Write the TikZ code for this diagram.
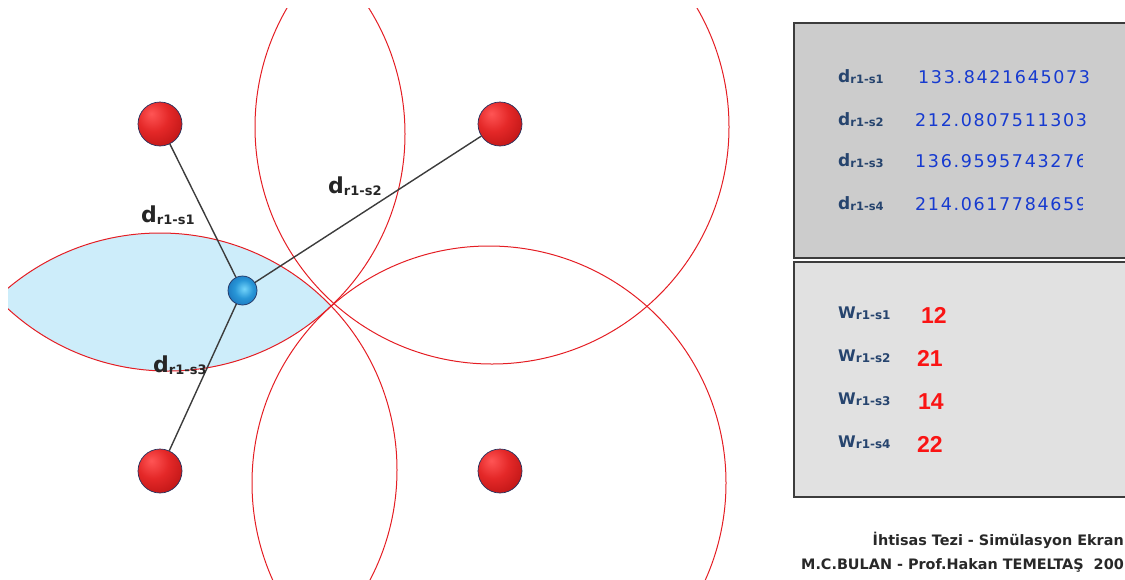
\documentclass[tikz,border=0pt]{standalone}
\usepackage{fontspec}
\setmainfont{DejaVu Sans}
\newfontfamily\numfont[LetterSpace=9.5]{DejaVu Sans}
\newfontfamily\wfont{Liberation Sans}
\definecolor{lensblue}{RGB}{205,237,250}
\definecolor{ringred}{RGB}{228,30,36}
\definecolor{linkgray}{RGB}{60,60,60}
\definecolor{panelA}{RGB}{204,204,204}
\definecolor{panelB}{RGB}{225,225,225}
\definecolor{panelline}{RGB}{60,60,60}
\definecolor{slate}{RGB}{38,68,110}
\definecolor{numblue}{RGB}{22,58,208}
\definecolor{wred}{RGB}{250,20,20}
\definecolor{foot}{RGB}{40,40,40}
\definecolor{rimblue}{RGB}{35,50,95}
\definecolor{rsA}{RGB}{255,85,85}
\definecolor{rsB}{RGB}{228,40,40}
\definecolor{rsC}{RGB}{180,16,16}
\definecolor{rsD}{RGB}{128,6,6}
\definecolor{bsA}{RGB}{115,212,250}
\definecolor{bsB}{RGB}{40,150,215}
\definecolor{bsC}{RGB}{20,100,175}
\definecolor{bsD}{RGB}{14,66,130}
\pgfdeclareradialshading{redsphere}{\pgfpoint{-10bp}{12bp}}{color(0bp)=(rsA); color(18bp)=(rsB); color(42bp)=(rsC); color(62bp)=(rsD); color(90bp)=(rsD)}
\pgfdeclareradialshading{bluesphere}{\pgfpoint{3bp}{3bp}}{color(0bp)=(bsA); color(16bp)=(bsB); color(38bp)=(bsC); color(55bp)=(bsD); color(80bp)=(bsD)}
\newcommand\mklab[5]{{\fontsize{#3}{#3}\selectfont #1}\raisebox{-#5pt}{\fontsize{#4}{#4}\selectfont #2}}
\tikzset{
  ring/.style={draw=ringred, line width=1pt},
  link/.style={draw=linkgray, line width=1.4pt},
  sensor/.style={circle, inner sep=0pt, minimum size=44pt, shading=redsphere, draw=rimblue, line width=0.7pt},
  robot/.style={circle, inner sep=0pt, minimum size=29pt, shading=bluesphere, draw=rimblue, line width=0.7pt},
  txt/.style={inner sep=0pt, anchor=base west},
  panel/.style={draw=panelline, line width=1.5pt, anchor=north west, inner sep=0pt},
}
\begin{document}
\begin{tikzpicture}[x=1pt,y=-1pt]
\path[use as bounding box] (0,0) rectangle (1125,579);
\clip (0,0) rectangle (1125,579);
% range circles and intersection lens
\begin{scope}
  \clip (8,8) rectangle (785,579);
  \begin{scope}
    \clip (168,134) circle[radius=237pt];
    \fill[lensblue] (160,470) circle[radius=237pt];
  \end{scope}
  \draw[ring] (168,134) circle[radius=237pt];
  \draw[ring] (492,127) circle[radius=237pt];
  \draw[ring] (160,470) circle[radius=237pt];
  \draw[ring] (489,483) circle[radius=237pt];
\end{scope}
% sensors and robot
\node[sensor] (s1) at (160,124) {};
\node[sensor] (s2) at (500,124) {};
\node[sensor] (s3) at (160,471) {};
\node[sensor] (s4) at (500,471) {};
\node[robot] (r1) at (242.5,290.5) {};
\draw[link] (r1) -- (s1);
\draw[link] (r1) -- (s2);
\draw[link] (r1) -- (s3);
% distance labels
\node[txt, text=black!85, font=\bfseries] (l1) at (141,222) {\mklab{d}{r1-s1}{22}{13}{2}};
\node[txt, text=black!85, font=\bfseries] (l2) at (328,193) {\mklab{d}{r1-s2}{22}{13}{2}};
\node[txt, text=black!85, font=\bfseries] (l3) at (153,372) {\mklab{d}{r1-s3}{22}{13}{2}};
% panels
\node[panel, fill=panelA, minimum width=370pt, minimum height=235pt] (pd) at (793,22) {};
\node[panel, fill=panelB, minimum width=370pt, minimum height=235pt] (pw) at (793,261) {};
% distances panel
\node[txt, text=slate, font=\bfseries] (dl1) at (838,82) {\mklab{d}{r1-s1}{17}{11.5}{1.5}};
\node[txt, text=slate, font=\bfseries] (dl2) at (838,125) {\mklab{d}{r1-s2}{17}{11.5}{1.5}};
\node[txt, text=slate, font=\bfseries] (dl3) at (838,166) {\mklab{d}{r1-s3}{17}{11.5}{1.5}};
\node[txt, text=slate, font=\bfseries] (dl4) at (838,209) {\mklab{d}{r1-s4}{17}{11.5}{1.5}};
\node[txt, text=numblue, font=\numfont\fontsize{17.5}{17.5}\selectfont] (dv1) at (918,83) {133.8421645073};
\node[txt, text=numblue, font=\numfont\fontsize{17.5}{17.5}\selectfont] (dv2) at (915,126) {212.0807511303};
\begin{scope}
  \clip (900,140) rectangle (1082,230);
  \node[txt, text=numblue, font=\numfont\fontsize{17.5}{17.5}\selectfont] (dv3) at (915,167) {136.9595743276};
  \node[txt, text=numblue, font=\numfont\fontsize{17.5}{17.5}\selectfont] (dv4) at (915,210) {214.0617784659};
\end{scope}
% weights panel
\node[txt, text=slate, font=\bfseries] (wl1) at (838,318) {\mklab{W}{r1-s1}{16}{12}{1}};
\node[txt, text=slate, font=\bfseries] (wl2) at (838,361) {\mklab{W}{r1-s2}{16}{12}{1}};
\node[txt, text=slate, font=\bfseries] (wl3) at (838,404) {\mklab{W}{r1-s3}{16}{12}{1}};
\node[txt, text=slate, font=\bfseries] (wl4) at (838,447) {\mklab{W}{r1-s4}{16}{12}{1}};
\node[txt, text=wred, font=\wfont\bfseries\fontsize{23}{23}\selectfont] (wv1) at (921,323) {12};
\node[txt, text=wred, font=\wfont\bfseries\fontsize{23}{23}\selectfont] (wv2) at (917,366) {21};
\node[txt, text=wred, font=\wfont\bfseries\fontsize{23}{23}\selectfont] (wv3) at (918,409) {14};
\node[txt, text=wred, font=\wfont\bfseries\fontsize{23}{23}\selectfont] (wv4) at (917,452) {22};
% footer
\node[inner sep=0pt, anchor=base east, text=foot, font=\bfseries\fontsize{14.4}{14.4}\selectfont] (f1) at (1124,545) {İhtisas Tezi - Simülasyon Ekran};
\node[inner sep=0pt, anchor=base east, text=foot, font=\bfseries\fontsize{14.4}{14.4}\selectfont] (f2) at (1124,569) {M.C.BULAN - Prof.Hakan TEMELTAŞ\ \ 200};
\end{tikzpicture}
\end{document}
